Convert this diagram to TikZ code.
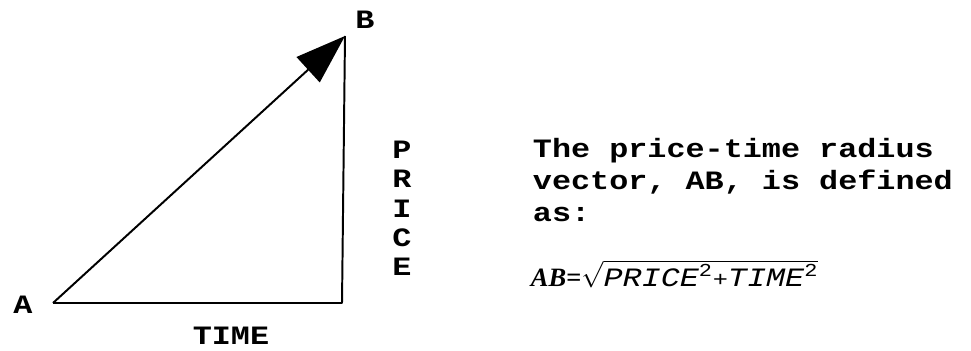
\RequirePackage{fix-cm}
\documentclass[tikz,border=0pt]{standalone}
\usepackage{amsmath}
\usepackage{fontspec}
\newfontfamily\courier{Liberation Mono}[FakeStretch=1.2]
\newfontfamily\timesit{Liberation Serif}
\usepackage{tikz}
\usetikzlibrary{arrows.meta}

\newcommand{\supii}{^{\text{\courier\mdseries\upshape\fontsize{13}{13}\selectfont 2}}}

\begin{document}
\begin{tikzpicture}[line width=1.4pt,
    lbl/.style={font=\courier\bfseries\fontsize{18.85}{22}\selectfont,inner sep=0pt}]
  \useasboundingbox (0,0) rectangle (24.275,8.775);
  \coordinate (A) at (1.325,1.2);
  \coordinate (C) at (8.55,1.2);
  \coordinate (B) at (8.625,7.875);
  \draw[line join=round] (A)--(C)--(B);
  \draw[-{Triangle[length=1.25cm,width=0.85cm]}] (A)--(B);
  \node[lbl] (labelA) at (0.575,1.15) {A};
  \node[lbl] (labelB) at (9.125,8.275) {B};
  \node[lbl,anchor=base] (time) at (5.775,0.15) {TIME};
  \foreach \l [count=\i] in {P,R,I,C,E}
    \node[lbl] (price\i) at (10.05,{5.025-0.731*(\i-1)}) {\l};
  \node[lbl,anchor=base west] (def1) at (13.3,4.825) {The price-time radius};
  \node[lbl,anchor=base west] (def2) at (13.3,4.025) {vector, AB, is defined};
  \node[lbl,anchor=base west] (def3) at (13.3,3.225) {as:};
  \node[lbl,anchor=base west] (formula) at (13.25,1.6)
    {{\timesit\itshape AB\upshape=}$\sqrt{\text{\mdseries\itshape PRICE}\supii\text{\mdseries\fontsize{15}{15}\selectfont +}\text{\mdseries\itshape TIME}\supii}$};
\end{tikzpicture}
\end{document}
